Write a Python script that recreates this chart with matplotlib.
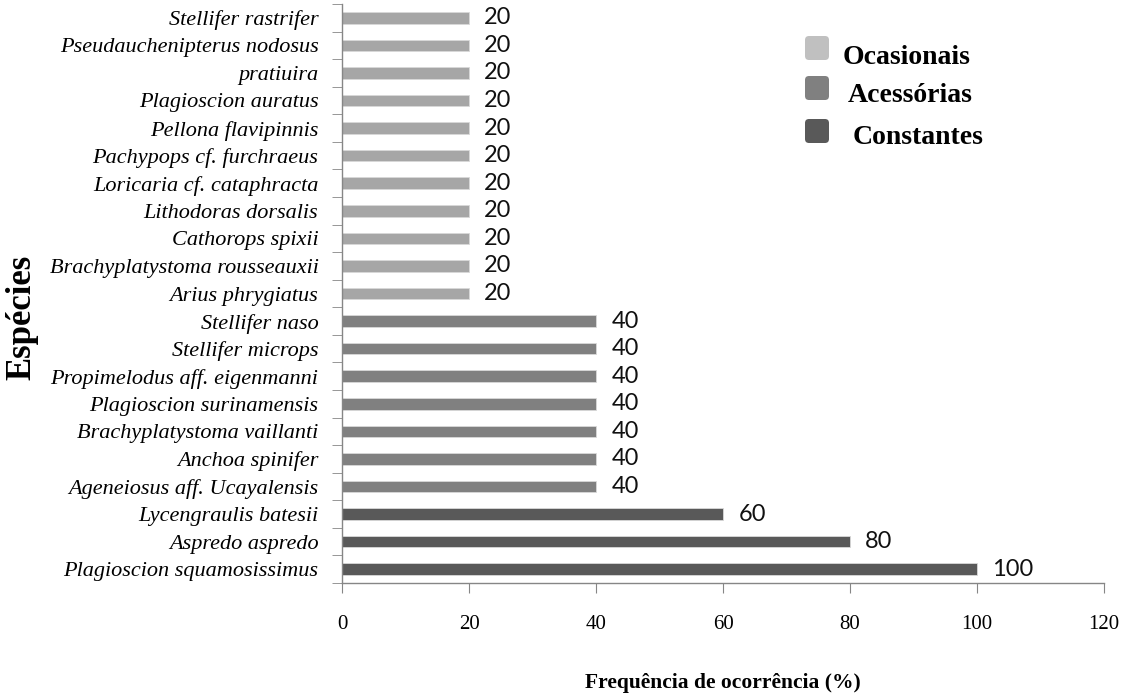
import matplotlib
matplotlib.use("Agg")
import matplotlib.pyplot as plt
from matplotlib.patches import FancyBboxPatch
import numpy as np

species = [
    "Plagioscion squamosissimus", "Aspredo aspredo", "Lycengraulis batesii",
    "Ageneiosus aff. Ucayalensis", "Anchoa spinifer", "Brachyplatystoma vaillanti",
    "Plagioscion surinamensis", "Propimelodus aff. eigenmanni", "Stellifer microps",
    "Stellifer naso", "Arius phrygiatus", "Brachyplatystoma rousseauxii",
    "Cathorops spixii", "Lithodoras dorsalis", "Loricaria cf. cataphracta",
    "Pachypops cf. furchraeus", "Pellona flavipinnis", "Plagioscion auratus",
    "pratiuira", "Pseudauchenipterus nodosus", "Stellifer rastrifer",
]
frequency = [100, 80, 60, 40, 40, 40, 40, 40, 40, 40,
             20, 20, 20, 20, 20, 20, 20, 20, 20, 20, 20]
category = ["Constantes"] * 3 + ["Acessórias"] * 7 + ["Ocasionais"] * 11
legend_order = ["Ocasionais", "Acessórias", "Constantes"]
xticks = [0, 20, 40, 60, 80, 100, 120]

bar_colors = {"Ocasionais": "#a6a6a6", "Acessórias": "#808080", "Constantes": "#595959"}
legend_colors = {"Ocasionais": "#c0c0c0", "Acessórias": "#808080", "Constantes": "#595959"}

W, H = 1128, 698
fig = plt.figure(figsize=(W / 100, H / 100), dpi=100)
ax = fig.add_axes([342 / W, 1 - 583 / H, (1104 - 342) / W, (583 - 4) / H])

y = np.arange(len(species))
ax.barh(y, frequency, height=0.42,
        color=[bar_colors[c] for c in category],
        edgecolor="#d9d9d9", linewidth=0.6)

for yi, v in zip(y, frequency):
    ax.annotate(f"{v}", (v, yi), xytext=(11, 0), textcoords="offset points",
                va="center", ha="left", fontsize=17, family="Lato", color="#111111")

ax.set_xlim(0, 120)
ax.set_ylim(-0.5, len(species) - 0.5)
ax.set_xticks(xticks)
ax.set_xticklabels([str(t) for t in xticks], family="Liberation Serif", fontsize=15)
ax.tick_params(axis="x", direction="out", length=7, color="#868686", pad=16)

ax.set_yticks(y)
ax.set_yticklabels(species, family="Liberation Serif", style="italic", fontsize=16)
ax.tick_params(axis="y", which="major", length=0, pad=17)
ax.set_yticks(np.arange(-0.5, len(species), 1), minor=True)
ax.tick_params(axis="y", which="minor", direction="out", length=7, color="#868686")

for s in ["top", "right"]:
    ax.spines[s].set_visible(False)
for s in ["left", "bottom"]:
    ax.spines[s].set_color("#868686")
    ax.spines[s].set_linewidth(1.0)

fig.text(723 / W, 1 - 683 / H, "Frequência de ocorrência (%)", family="Liberation Serif",
         fontweight="bold", fontsize=15.5, ha="center", va="center")
fig.text(22 / W, 1 - 317 / H, "Espécies", family="Liberation Serif", fontweight="bold",
         fontsize=25, rotation=90, ha="center", va="center")

# legend drawn manually (rounded squares), positions in pixels
px = fig.dpi_scale_trans
sq_cx, sq_size, rpad = 817, 24, 4
sq_cy = [48, 88, 131]
text_x = [843, 848, 853]
text_y = [57, 95, 137]
for i, c in enumerate(legend_order):
    x0 = sq_cx - sq_size / 2 + rpad
    y0 = H - (sq_cy[i] + sq_size / 2 - rpad)
    box = FancyBboxPatch((x0 / 100, y0 / 100), (sq_size - 2 * rpad) / 100,
                         (sq_size - 2 * rpad) / 100,
                         boxstyle=f"round,pad={rpad / 100}", transform=px,
                         facecolor=legend_colors[c], edgecolor="none")
    fig.patches.append(box)
    fig.text(text_x[i] / W, 1 - text_y[i] / H, c, family="Liberation Serif",
             fontweight="bold", fontsize=20, ha="left", va="center")

fig.savefig("out.png", dpi=100)
